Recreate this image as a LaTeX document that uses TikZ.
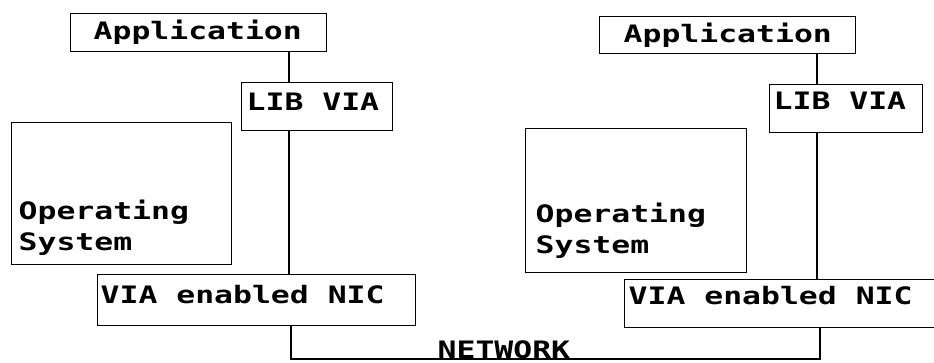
\documentclass[tikz,border=0pt]{standalone}
\usepackage{fontspec}
\newfontfamily\pixfont[FakeStretch=1.31]{DejaVu Sans Mono}

\begin{document}
\begin{tikzpicture}[x=1pt,y=-1pt,line width=1.3pt,font=\pixfont\bfseries\fontsize{24}{31}\selectfont,
  box/.style={draw,inner sep=0pt,anchor=north west},
  lbl/.style={inner sep=0pt,anchor=base west,align=left}]
\useasboundingbox (0,0) rectangle (934,362);
% left host
\node[box,minimum width=256pt,minimum height=38pt] (appL) at (70,13) {};
\node[box,minimum width=151pt,minimum height=48pt] (libL) at (241,82) {};
\node[box,minimum width=220pt,minimum height=142pt] (osL) at (11,122) {};
\node[box,minimum width=318pt,minimum height=51pt] (nicL) at (97,274) {};
\node[lbl] (appLtxt) at (93,39) {Application};
\node[lbl] (libLtxt) at (246,110) {LIB VIA};
\node[lbl] (osLtxt) at (18,250) {Operating\\System};
\node[lbl] (nicLtxt) at (100,303) {VIA enabled NIC};
% right host
\node[box,minimum width=256pt,minimum height=37pt] (appR) at (599,16) {};
\node[box,minimum width=153pt,minimum height=48pt] (libR) at (769,84) {};
\node[box,minimum width=221pt,minimum height=144pt] (osR) at (525,128) {};
\node[box,minimum width=320pt,minimum height=48pt] (nicR) at (624,279) {};
\node[lbl] (appRtxt) at (623,42) {Application};
\node[lbl] (libRtxt) at (773,109) {LIB VIA};
\node[lbl] (osRtxt) at (535,253) {Operating\\System};
\node[lbl] (nicRtxt) at (628,304) {VIA enabled NIC};
% stacks
\coordinate (stkL) at (289,0);
\coordinate (stkR) at (817,0);
\draw (appL.south -| stkL) -- (libL.north -| stkL) (libL.south -| stkL) -- (nicL.north -| stkL);
\draw (appR.south -| stkR) -- (libR.north -| stkR) (libR.south -| stkR) -- (nicR.north -| stkR);
% network
\coordinate (busL) at (291,359);
\coordinate (busR) at (820,359);
\draw[line width=2.2pt] (nicL.south -| busL) -- (busL) -- (busR) -- (nicR.south -| busR);
\node[lbl] (netlbl) at (437,358) {NETWORK};
\end{tikzpicture}
\end{document}
